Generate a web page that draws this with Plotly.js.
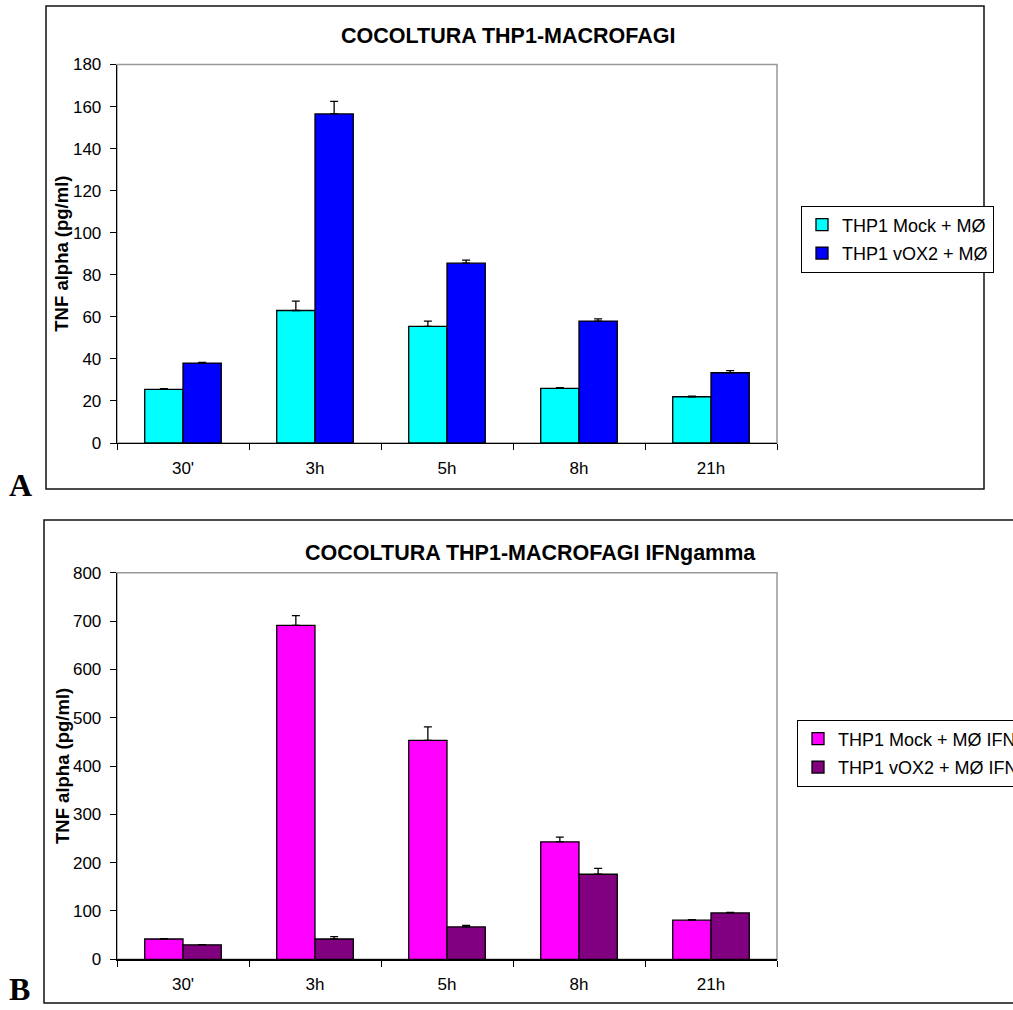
<!DOCTYPE html>
<html>
<head>
<meta charset="utf-8">
<script src="https://cdn.plot.ly/plotly-3.0.1.min.js"></script>
<style>html,body{margin:0;padding:0;background:#fff;}#chart{width:1013px;height:1010px;}</style>
</head>
<body>
<div id="chart"></div>
<script>
// ---- data ----
const categories = ["30'", "3h", "5h", "8h", "21h"];

const namesA = ["THP1 Mock + MØ", "THP1 vOX2 + MØ"];
const mockA = [25.5, 63, 55.5, 26, 22];
const mockAErr = [0.3, 4.5, 2.5, 0.3, 0.3];
const voxA = [38, 156.5, 85.5, 58, 33.4];
const voxAErr = [0.3, 6, 1.5, 1, 1];

const namesB = ["THP1 Mock + MØ IFNγ", "THP1 vOX2 + MØ IFNγ"];
const mockB = [42, 691, 453, 243, 81];
const mockBErr = [0.5, 20, 28, 10, 1];
const voxB = [30, 42, 67, 176, 96];
const voxBErr = [0.5, 5, 3, 12, 1];

const titleA = "COCOLTURA THP1-MACROFAGI";
const titleB = "COCOLTURA THP1-MACROFAGI IFNgamma";
const yTitle = "TNF alpha (pg/ml)";

// ---- layout helpers (pixel -> paper) ----
const W = 1013, H = 1010;
const px = v => v / W;
const py = v => 1 - v / H;
const FONT = "Liberation Sans, Arial, sans-serif";

function barTrace(name, y, err, color, xa, ya, legend, group) {
  return {
    type: 'bar', name: name, x: categories, y: y,
    xaxis: xa, yaxis: ya, legend: legend, legendgroup: group,
    marker: {color: color, line: {color: '#000', width: 1.3}},
    error_y: {type: 'data', symmetric: false, array: err,
              arrayminus: err.map(() => 0), color: '#000', thickness: 1.3, width: 4},
    hoverinfo: 'skip'
  };
}

const traces = [
  barTrace(namesA[0], mockA, mockAErr, '#00FFFF', 'x', 'y', 'legend', 'a1'),
  barTrace(namesA[1], voxA, voxAErr, '#0000FF', 'x', 'y', 'legend', 'a2'),
  barTrace(namesB[0], mockB, mockBErr, '#FF00FF', 'x2', 'y2', 'legend2', 'b1'),
  barTrace(namesB[1], voxB, voxBErr, '#800080', 'x2', 'y2', 'legend2', 'b2')
];

function xAxis(anchor) {
  return {
    domain: [px(117), px(777)], anchor: anchor,
    type: 'category', tickson: 'boundaries',
    ticks: 'outside', ticklen: 6, tickwidth: 1, tickcolor: '#000',
    showline: true, linecolor: '#000', linewidth: 1.3,
    showgrid: false, zeroline: false, fixedrange: true,
    tickfont: {family: FONT, size: 17, color: '#000'},
    ticklabelstandoff: 9
  };
}
function yAxis(anchor, top, bottom, max, dtick) {
  return {
    domain: [py(bottom), py(top)], anchor: anchor,
    range: [0, max], dtick: dtick, tick0: 0,
    ticks: 'outside', ticklen: 6, tickwidth: 1, tickcolor: '#000',
    showline: true, linecolor: '#000', linewidth: 1.3,
    showgrid: false, zeroline: false, fixedrange: true,
    tickfont: {family: FONT, size: 17, color: '#000'},
    ticklabelstandoff: 5
  };
}

const legendBase = {
  xanchor: 'left', yanchor: 'top', xref: 'paper', yref: 'paper',
  bgcolor: '#fff', bordercolor: '#000', borderwidth: 1,
  font: {family: FONT, size: 18, color: '#000'},
  tracegroupgap: 2, itemclick: false, itemdoubleclick: false
};

const layout = {
  width: W, height: H,
  margin: {l: 0, r: 0, t: 0, b: 0, autoexpand: false},
  paper_bgcolor: '#fff', plot_bgcolor: '#fff',
  barmode: 'group', bargap: 0.42, bargroupgap: 0,
  showlegend: true,
  xaxis: xAxis('y'),
  yaxis: yAxis('x', 64.5, 443, 180, 20),
  xaxis2: xAxis('y2'),
  yaxis2: yAxis('x2', 572.7, 959.3, 800, 100),
  legend: Object.assign({}, legendBase, {x: px(801), y: py(205.5)}),
  legend2: Object.assign({}, legendBase, {x: px(797), y: py(719.5)}),
  shapes: [
    // outer chart frames
    {type: 'rect', xref: 'paper', yref: 'paper', x0: px(46), x1: px(984), y0: py(489), y1: py(6),
     line: {color: '#111', width: 1.5}, layer: 'below'},
    {type: 'rect', xref: 'paper', yref: 'paper', x0: px(44), x1: px(1030), y0: py(1003), y1: py(520),
     line: {color: '#111', width: 1.5}, layer: 'below'},
    // plot area borders (grey)
    {type: 'rect', xref: 'paper', yref: 'paper', x0: px(117), x1: px(777), y0: py(443), y1: py(64.5),
     line: {color: '#999', width: 1.5}, layer: 'below'},
    {type: 'rect', xref: 'paper', yref: 'paper', x0: px(117), x1: px(777), y0: py(959.3), y1: py(572.7),
     line: {color: '#999', width: 1.5}, layer: 'below'}
  ],
  annotations: [
    {text: '<b>' + titleA + '</b>', xref: 'paper', yref: 'paper', x: px(508), y: py(36),
     showarrow: false, xanchor: 'center', yanchor: 'middle', font: {family: FONT, size: 21.5, color: '#000'}},
    {text: '<b>' + titleB + '</b>', xref: 'paper', yref: 'paper', x: px(530), y: py(553),
     showarrow: false, xanchor: 'center', yanchor: 'middle', font: {family: FONT, size: 21.5, color: '#000'}},
    {text: '<b>' + yTitle + '</b>', xref: 'paper', yref: 'paper', x: px(62), y: py(253.7),
     textangle: -90, showarrow: false, xanchor: 'center', yanchor: 'middle', font: {family: FONT, size: 18.5, color: '#000'}},
    {text: '<b>' + yTitle + '</b>', xref: 'paper', yref: 'paper', x: px(62), y: py(766),
     textangle: -90, showarrow: false, xanchor: 'center', yanchor: 'middle', font: {family: FONT, size: 18.5, color: '#000'}},
    {text: '<b>A</b>', xref: 'paper', yref: 'paper', x: px(20), y: py(485), showarrow: false,
     xanchor: 'center', yanchor: 'middle', font: {family: 'Liberation Serif, Times New Roman, serif', size: 32, color: '#000'}},
    {text: '<b>B</b>', xref: 'paper', yref: 'paper', x: px(19), y: py(989), showarrow: false,
     xanchor: 'center', yanchor: 'middle', font: {family: 'Liberation Serif, Times New Roman, serif', size: 32, color: '#000'}}
  ]
};

Plotly.newPlot('chart', traces, layout, {staticPlot: true, displayModeBar: false});
</script>
</body>
</html>
